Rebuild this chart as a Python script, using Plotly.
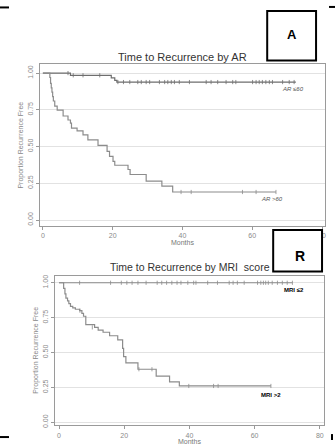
import plotly.graph_objects as go

W, H = 336, 445

# ---------------- Data: panel A (Time to Recurrence by AR) ----------------
ar_low_t = [0, 7.9, 19.6, 20.6, 21.2, 72.5]
ar_low_s = [1.0, 0.985, 0.968, 0.950, 0.939, 0.939]
ar_low_cens_t = [7.2, 8.7, 11.5, 16.3, 21.5, 23.1, 24.9, 27.2, 28.2, 29.6, 30.6, 33.4, 34.9,
                 35.8, 36.8, 37.7, 39.1, 42.0, 46.8, 48.2, 50.1, 52.5, 54.4, 55.3, 60.1, 61.1,
                 62.0, 62.9, 63.9, 64.9, 65.8, 68.7, 70.6, 72.0]
ar_low_cens_s = [1.0, 0.985, 0.985, 0.985] + [0.939] * 30

ar_high_t = [0, 2.0, 2.2, 2.4, 2.6, 2.8, 3.0, 3.4, 4.1, 5.8, 7.2, 7.9, 8.2, 9.8, 11.5, 12.9,
             15.8, 18.4, 19.1, 20.1, 20.6, 24.4, 25.0, 29.6, 34.1, 37.2, 66.8]
ar_high_s = [1.0, 0.97, 0.93, 0.90, 0.87, 0.84, 0.81, 0.775, 0.748, 0.708, 0.681, 0.659, 0.625,
             0.607, 0.580, 0.546, 0.508, 0.467, 0.434, 0.400, 0.373, 0.344, 0.310, 0.265,
             0.231, 0.191, 0.191]
ar_high_cens_t = [39.6, 42.5, 57.2, 61.1, 66.8]
ar_high_cens_s = [0.191] * 5

# ---------------- Data: panel B (Time to Recurrence by MRI score) ----------------
mri_low_t = [0, 71.6]
mri_low_s = [1.0, 1.0]
mri_low_cens_t = [6.3, 15.8, 19.1, 20.8, 22.4, 24.2, 26.7, 30.1, 31.5, 33.0, 34.6, 36.2, 37.4,
                  39.5, 41.3, 42.0, 45.6, 48.6, 52.2, 53.4, 54.7, 56.8, 60.9, 61.9, 62.7, 63.4,
                  64.2, 65.4, 67.0, 68.5, 70.0, 71.6]
mri_low_cens_s = [1.0] * 32

mri_high_t = [0, 1.4, 1.8, 2.1, 2.6, 3.0, 3.5, 4.2, 5.0, 6.3, 7.0, 7.5, 8.2, 10.9, 12.0, 13.5,
              15.5, 18.0, 19.5, 19.8, 20.5, 24.2, 29.8, 33.9, 36.9, 65.0]
mri_high_s = [1.0, 0.96, 0.92, 0.89, 0.87, 0.85, 0.83, 0.82, 0.81, 0.80, 0.78, 0.76, 0.70, 0.68,
              0.66, 0.645, 0.62, 0.59, 0.53, 0.47, 0.425, 0.38, 0.33, 0.29, 0.26, 0.26]
mri_high_cens_t = [6.4, 10.2, 24.5, 28.5, 39.8, 47.4, 48.8, 65.0]
mri_high_cens_s = [0.80, 0.68, 0.38, 0.38, 0.26, 0.26, 0.26, 0.26]

x_ticks = [0, 20, 40, 60, 80]
y_ticks = [0, 0.25, 0.5, 0.75, 1.0]
y_ticktext = ["0.00", "0.25", "0.50", "0.75", "1.00"]

FONT = "Liberation Sans, Arial, sans-serif"
AX_COL = "#9a9a9a"
TICK_COL = "#8a8a8a"


def px_x(p):
    return p / W


def px_y(p):
    return 1 - p / H


fig = go.Figure()


def add_curve(t, s, ct, cs, xa, ya, color):
    fig.add_trace(go.Scatter(x=t, y=s, mode="lines", line=dict(shape="hv", color=color, width=1.2),
                             xaxis=xa, yaxis=ya, showlegend=False, hoverinfo="skip"))
    fig.add_trace(go.Scatter(x=ct, y=cs, mode="markers",
                             marker=dict(symbol="line-ns", size=3, line=dict(color=color, width=0.8)),
                             xaxis=xa, yaxis=ya, showlegend=False, hoverinfo="skip"))


add_curve(ar_low_t, ar_low_s, ar_low_cens_t, ar_low_cens_s, "x", "y", "#6e6e6e")
add_curve(ar_high_t, ar_high_s, ar_high_cens_t, ar_high_cens_s, "x", "y", "#8c8c8c")
add_curve(mri_low_t, mri_low_s, mri_low_cens_t, mri_low_cens_s, "x2", "y2", "#8c8c8c")
add_curve(mri_high_t, mri_high_s, mri_high_cens_t, mri_high_cens_s, "x2", "y2", "#8c8c8c")

# Plot boxes (pixels)
A_L, A_R, A_T, A_B = 40, 326, 64, 227
B_L, B_R, B_T, B_B = 55, 325, 277, 428

common_x = dict(tickvals=x_ticks, ticks="outside", ticklen=3, tickcolor=AX_COL,
                showline=True, linecolor=AX_COL, linewidth=1, mirror=True, showgrid=False,
                zeroline=False, tickfont=dict(family=FONT, size=7, color=TICK_COL),
                title=dict(text="Months", font=dict(family=FONT, size=7, color="#777"), standoff=0))
common_y = dict(tickvals=y_ticks, ticktext=y_ticktext, ticks="outside", ticklen=3,
                tickcolor=AX_COL, tickangle=-90, showline=True, linecolor=AX_COL, linewidth=1,
                mirror=True, showgrid=True, gridcolor="#e2e2e2", gridwidth=1, zeroline=False,
                tickfont=dict(family=FONT, size=7, color=TICK_COL),
                title=dict(text="Proportion Recurrence Free",
                           font=dict(family=FONT, size=7, color="#888"), standoff=2))

fig.update_layout(
    width=W, height=H, margin=dict(l=0, r=0, t=0, b=0),
    paper_bgcolor="white", plot_bgcolor="white",
    xaxis=dict(domain=[px_x(A_L), px_x(A_R)], range=[-0.86, 80.86], anchor="y", **common_x),
    yaxis=dict(domain=[px_y(A_B), px_y(A_T)], range=[-0.040, 1.059], anchor="x", **common_y),
    xaxis2=dict(domain=[px_x(B_L), px_x(B_R)], range=[-1.3, 81.3], anchor="y2", **common_x),
    yaxis2=dict(domain=[px_y(B_B), px_y(B_T)], range=[-0.021, 1.052], anchor="x2", **common_y),
)

annotations = [
    dict(text="Time to Recurrence by AR", x=px_x(183), y=px_y(57), font=dict(family=FONT, size=11, color="#333")),
    dict(text="Time to Recurrence by MRI  score", x=px_x(191), y=px_y(268), font=dict(family=FONT, size=10.5, color="#333")),
    dict(text="<i>AR ≤60</i>", x=px_x(294), y=px_y(89), font=dict(family=FONT, size=6, color="#555")),
    dict(text="<i>AR >60</i>", x=px_x(273), y=px_y(200), font=dict(family=FONT, size=6, color="#555")),
    dict(text="<b>MRI ≤2</b>", x=px_x(295), y=px_y(292), font=dict(family=FONT, size=6, color="#000")),
    dict(text="<b>MRI >2</b>", x=px_x(272), y=px_y(398), font=dict(family=FONT, size=6, color="#000")),
    dict(text="<b>A</b>", x=px_x(293), y=px_y(34), font=dict(family=FONT, size=13, color="#000")),
    dict(text="<b>R</b>", x=px_x(301), y=px_y(257), font=dict(family=FONT, size=14, color="#000")),
]
for a in annotations:
    a.update(xref="paper", yref="paper", showarrow=False, xanchor="center", yanchor="middle")
fig.update_layout(annotations=annotations)

shapes = [
    dict(type="rect", x0=px_x(268), x1=px_x(317), y0=px_y(10), y1=px_y(60),
         line=dict(color="#000", width=2), fillcolor="white"),
    dict(type="rect", x0=px_x(274), x1=px_x(323), y0=px_y(231), y1=px_y(273),
         line=dict(color="#000", width=2), fillcolor="white"),
    dict(type="line", x0=0, x1=px_x(9), y0=px_y(6.5), y1=px_y(6.5), line=dict(color="#000", width=2)),
    dict(type="line", x0=px_x(330), x1=1, y0=px_y(6), y1=px_y(6), line=dict(color="#000", width=2)),
    dict(type="line", x0=0, x1=px_x(9), y0=px_y(440), y1=px_y(440), line=dict(color="#000", width=2)),
    dict(type="line", x0=px_x(333), x1=px_x(333), y0=px_y(437), y1=px_y(443), line=dict(color="#000", width=2)),
]
for s in shapes:
    s.update(xref="paper", yref="paper", layer="above")
fig.update_layout(shapes=shapes)

fig.write_html(
    "out.html",
    config={"displayModeBar": False},
    post_script="document.body.style.margin='0';document.body.style.overflow='hidden';",
)
